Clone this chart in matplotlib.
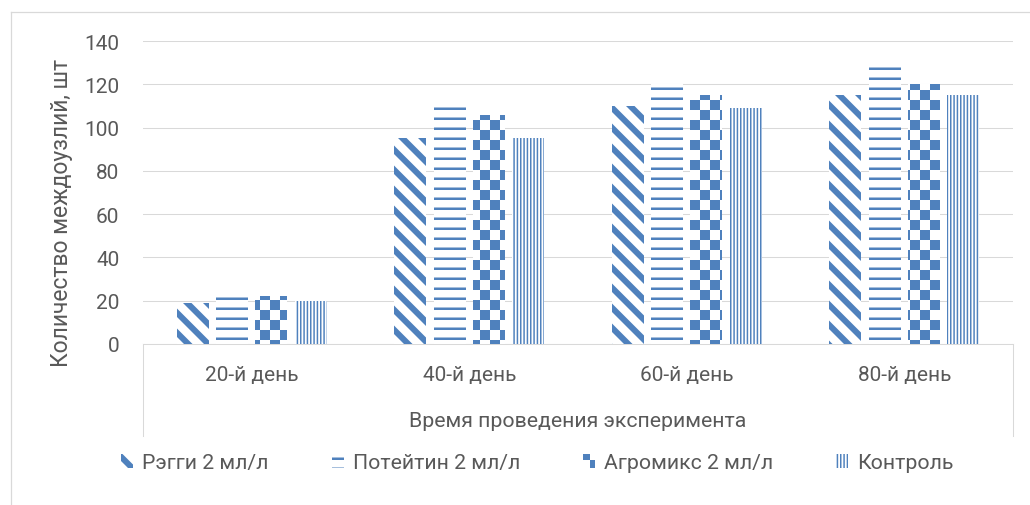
import numpy as np
import matplotlib
matplotlib.use("Agg")
import matplotlib.pyplot as plt
import matplotlib.hatch as mhatch
from matplotlib.path import Path
from matplotlib.lines import Line2D

# ---- data -------------------------------------------------------------
categories = ["20-й день", "40-й день", "60-й день", "80-й день"]
series_names = ["Рэгги 2 мл/л", "Потейтин 2 мл/л", "Агромикс 2 мл/л", "Контроль"]
reggae = [19, 95, 110, 115]
potatin = [25, 110, 120, 128]
agromix = [22, 106, 115, 120]
control = [20, 95, 109, 115]
y_ticks = [0, 20, 40, 60, 80, 100, 120, 140]
x_title = "Время проведения эксперимента"
y_title = "Количество междоузлий, шт"

BLUE = "#4f81bd"
GRID = "#d9d9d9"
TEXT = "#595959"


# ---- filled pattern fills (office-style pattern bars) -------------------
class _FilledHatch(mhatch.HatchPatternBase):
    symbol = ""

    def __init__(self, hatch, density):
        self.polygons = self.build() if self.symbol in hatch else []
        self.num_vertices = sum(len(p) + 1 for p in self.polygons)

    def build(self):
        return []

    def set_vertices_and_codes(self, vertices, codes):
        i = 0
        for poly in self.polygons:
            n = len(poly)
            vertices[i:i + n] = poly
            vertices[i + n] = poly[0]
            codes[i] = Path.MOVETO
            codes[i + 1:i + n] = Path.LINETO
            codes[i + n] = Path.CLOSEPOLY
            i += n + 1


class _WideDiagonal(_FilledHatch):
    symbol = "\\"

    def build(self):
        period, width = 0.2, 0.085
        polys = []
        for k in range(-2, 13):
            c = k * period
            polys.append([(-0.2, c + 0.2), (1.2, c - 1.2),
                          (1.2, c - 1.2 + width), (-0.2, c + 0.2 + width)])
        return polys


class _HorizontalBands(_FilledHatch):
    symbol = "-"

    def build(self):
        n, t = 10, 0.025
        return [[(-0.1, k / n), (1.1, k / n), (1.1, k / n + t), (-0.1, k / n + t)]
                for k in range(n)]


class _VerticalBands(_FilledHatch):
    symbol = "|"

    def build(self):
        n, t = 30, 0.015
        return [[(k / n, -0.1), (k / n + t, -0.1), (k / n + t, 1.1), (k / n, 1.1)]
                for k in range(n)]


class _Checker(_FilledHatch):
    symbol = "+"

    def build(self):
        n, s = 5, 0.1
        polys = []
        for i in range(n):
            for j in range(n):
                for dx, dy in ((0.0, 0.0), (s, s)):
                    x0, y0 = i / n + dx, j / n + dy
                    polys.append([(x0, y0), (x0 + s, y0), (x0 + s, y0 + s), (x0, y0 + s)])
        return polys


mhatch._hatch_types = [_WideDiagonal, _HorizontalBands, _Checker, _VerticalBands]

plt.rcParams["hatch.linewidth"] = 0.0
plt.rcParams["hatch.color"] = BLUE
plt.rcParams["font.family"] = ["Roboto", "DejaVu Sans"]

# ---- figure -----------------------------------------------------------
W, H = 1030, 506
fig = plt.figure(figsize=(W / 100, H / 100), dpi=100)
ax = fig.add_axes([143 / W, 1 - 345 / H, 870 / W, 303 / H])

series = [reggae, potatin, agromix, control]
hatches = ["\\", "-", "+", "|"]
x = np.arange(len(categories))
pitch, width = 0.181, 0.147
containers = []
for i, (vals, hatch) in enumerate(zip(series, hatches)):
    bc = ax.bar(x + (i - 1.5) * pitch, vals, width, facecolor="white",
                edgecolor=BLUE, linewidth=0, hatch=hatch, zorder=3)
    containers.append(bc)

ax.set_xlim(-0.5, len(categories) - 0.5)
ax.set_ylim(0, 140)
ax.set_yticks(y_ticks)
ax.set_xticks(x)
ax.set_xticklabels(categories)
ax.yaxis.grid(True, color=GRID, linewidth=0.75)
ax.set_axisbelow(True)
for side in ("top", "right", "left"):
    ax.spines[side].set_visible(False)
ax.spines["bottom"].set_color(GRID)
ax.spines["bottom"].set_linewidth(0.75)

ax.tick_params(axis="both", length=0, labelsize=15, labelcolor=TEXT)
ax.tick_params(axis="y", pad=17)
ax.tick_params(axis="x", pad=15)

ax.set_xlabel(x_title, fontsize=15.3, color=TEXT)
ax.xaxis.set_label_coords(0.5, -(412 - 345) / 303)
ax.set_ylabel(y_title, fontsize=16.5, color=TEXT)
ax.yaxis.set_label_coords(-(143 - 73) / 870, (345 - 213) / 303)

# category box below the axis
for xa in (0, 1):
    ax.add_line(Line2D([xa, xa], [0, -(437 - 345) / 303], transform=ax.transAxes,
                       clip_on=False, color=GRID, linewidth=0.75))

# chart area border
fig.add_artist(Line2D([10.5 / W, 10.5 / W], [0, 1 - 12.5 / H], transform=fig.transFigure,
                      color=GRID, linewidth=0.9))
fig.add_artist(Line2D([10.5 / W, 1], [1 - 12.5 / H, 1 - 12.5 / H], transform=fig.transFigure,
                      color=GRID, linewidth=0.9))

fig.legend(containers, series_names, loc="center left",
           bbox_to_anchor=(121 / W, 1 - 464 / H), ncol=4, frameon=False,
           fontsize=15.3, labelcolor=TEXT, handlelength=0.57, handleheight=0.57,
           handletextpad=0.42, columnspacing=2.97, borderpad=0, borderaxespad=0)

fig.savefig("out.png", dpi=100)
